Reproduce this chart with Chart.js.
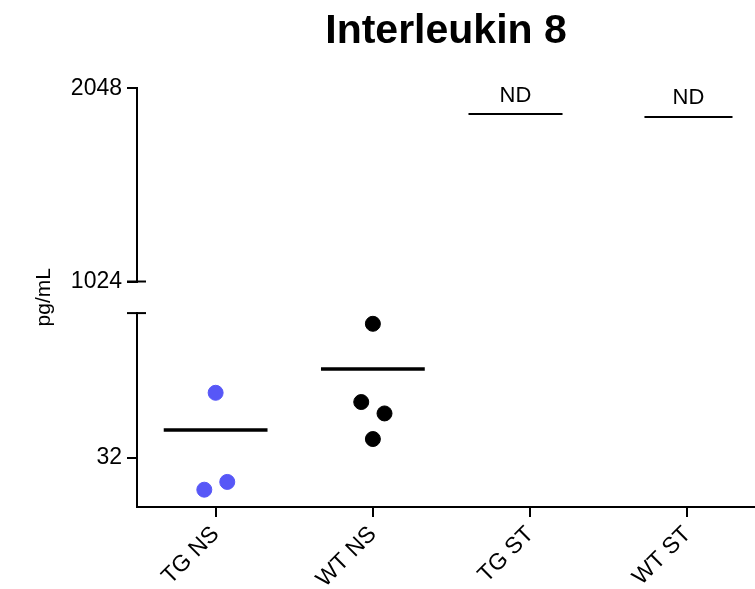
<!DOCTYPE html>
<html>
<head>
<meta charset="utf-8">
<script src="https://cdn.jsdelivr.net/npm/chart.js@4.4.1/dist/chart.umd.min.js"></script>
<style>
  body { margin: 0; background: #fff; }
  canvas { display: block; }
</style>
</head>
<body>
<canvas id="chart" width="755" height="589"></canvas>
<script>
/* ---------- data ---------- */
const categories = ["TG NS", "WT NS", "TG ST", "WT ST"];

// TG NS (blue) – values in pg/mL, with small horizontal scatter
const tgNsValues = [161, 14.6, 17.7];
const tgNsJitter = [0, -0.072, 0.074];
const tgNsMean = 64;

// WT NS (black)
const wtNsValues = [889, 128, 96.5, 51.2];
const wtNsJitter = [0, -0.074, 0.074, 0];
const wtNsMean = 290;

// ST groups: not detected
const ndLevels = [1911, 1895];
const ndSpans = [[1.608, 2.206], [2.727, 3.287]];
const ndText = ["ND", "ND"];
const ndTextX = [1.907, 3.007];
const ndTextY = [2006, 1995];

const lowTicks = [32];
const highTicks = [1024, 2048];

const FONT = "'Liberation Sans', Arial, sans-serif";
const BLUE = "#5757F7";
const MEAN_HALF = 0.33;

/* ---------- helpers ---------- */
function points(values, jitter, catIndex) {
  return values.map((v, i) => ({ x: catIndex + jitter[i], y: v }));
}
function meanLine(v, catIndex) {
  return [{ x: catIndex - MEAN_HALF, y: v }, { x: catIndex + MEAN_HALF, y: v }];
}

/* ---------- break caps + ND text ---------- */
const breakMarks = {
  id: "breakMarks",
  afterDraw(chart) {
    const { ctx, scales } = chart;
    const hi = scales.yHigh, lo = scales.yLow, x = scales.x;
    const ax = hi.right;
    ctx.save();
    ctx.strokeStyle = "#000";
    ctx.lineWidth = 2;
    [hi.getPixelForValue(1024), lo.top].forEach(y => {
      ctx.beginPath();
      ctx.moveTo(ax - 10, y);
      ctx.lineTo(ax + 9, y);
      ctx.stroke();
    });
    ctx.fillStyle = "#000";
    ctx.font = "22px " + FONT;
    ctx.textAlign = "center";
    ctx.textBaseline = "middle";
    ndText.forEach((t, i) => {
      ctx.fillText(t, x.getPixelForValue(ndTextX[i]), hi.getPixelForValue(ndTextY[i]));
    });
    ctx.restore();
  }
};

const axisGrid = {
  display: true,
  drawOnChartArea: false,
  drawTicks: true,
  tickLength: 10,
  color: "#000",
  lineWidth: 2
};
const axisBorder = { display: true, color: "#000", width: 2 };
const tickFont = { family: FONT, size: 23 };

new Chart(document.getElementById("chart"), {
  type: "scatter",
  data: {
    datasets: [
      {
        data: points(tgNsValues, tgNsJitter, 0),
        yAxisID: "yLow",
        backgroundColor: BLUE,
        borderColor: BLUE,
        pointRadius: 7.5
      },
      {
        data: points(wtNsValues, wtNsJitter, 1),
        yAxisID: "yLow",
        backgroundColor: "#000",
        borderColor: "#000",
        pointRadius: 7.5
      },
      {
        type: "line",
        data: meanLine(tgNsMean, 0),
        yAxisID: "yLow",
        borderColor: "#000",
        borderWidth: 3.5,
        pointRadius: 0
      },
      {
        type: "line",
        data: meanLine(wtNsMean, 1),
        yAxisID: "yLow",
        borderColor: "#000",
        borderWidth: 3.5,
        pointRadius: 0
      },
      ...ndLevels.map((v, i) => ({
        type: "line",
        data: [{ x: ndSpans[i][0], y: v }, { x: ndSpans[i][1], y: v }],
        yAxisID: "yHigh",
        borderColor: "#000",
        borderWidth: 2,
        pointRadius: 0
      }))
    ]
  },
  options: {
    responsive: false,
    animation: false,
    clip: false,
    layout: { autoPadding: false, padding: { left: 0, right: 0, top: 0, bottom: 0 } },
    plugins: {
      legend: { display: false },
      tooltip: { enabled: false },
      title: {
        display: true,
        text: "Interleukin 8",
        fullSize: false,
        color: "#000",
        font: { family: FONT, size: 41, weight: "bold" },
        padding: { top: 7, bottom: 32 }
      }
    },
    scales: {
      x: {
        type: "linear",
        position: "bottom",
        min: -0.5,
        max: 3.43,
        afterBuildTicks: s => { s.ticks = categories.map((c, i) => ({ value: i })); },
        afterFit: s => { s.height = 82; s.paddingRight = 0; s.paddingLeft = 0; },
        grid: axisGrid,
        border: axisBorder,
        ticks: {
          callback: v => categories[v],
          maxRotation: 45,
          minRotation: 45,
          autoSkip: false,
          color: "#000",
          font: tickFont,
          padding: 4
        }
      },
      yLow: {
        type: "logarithmic",
        position: "left",
        stack: "y",
        stackWeight: 194,
        min: 9.51,
        max: 1159,
        afterBuildTicks: s => { s.ticks = lowTicks.map(v => ({ value: v })); },
        afterFit: s => { s.width = 137; },
        grid: axisGrid,
        border: axisBorder,
        ticks: { color: "#000", font: tickFont, padding: 5, callback: v => String(v) }
      },
      yGap: {
        type: "linear",
        position: "left",
        stack: "y",
        stackWeight: 31.6,
        afterFit: s => { s.width = 137; },
        grid: { display: false },
        border: { display: false },
        ticks: { display: false },
        title: {
          display: true,
          text: "pg/mL",
          color: "#000",
          font: { family: FONT, size: 21 },
          padding: { top: 32, bottom: 0 }
        }
      },
      yHigh: {
        type: "linear",
        position: "left",
        stack: "y",
        stackWeight: 193.4,
        min: 1024,
        max: 2048,
        afterBuildTicks: s => { s.ticks = highTicks.map(v => ({ value: v })); },
        afterFit: s => { s.width = 137; },
        grid: axisGrid,
        border: axisBorder,
        ticks: { color: "#000", font: tickFont, padding: 5, callback: v => String(v) }
      }
    }
  },
  plugins: [breakMarks]
});
</script>
</body>
</html>
